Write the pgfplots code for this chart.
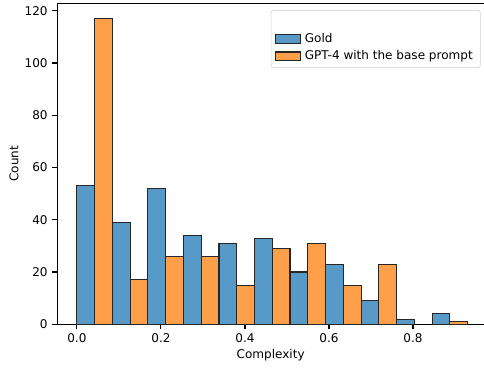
\documentclass[border=0pt]{standalone}
\usepackage{fontspec}
\setmainfont{DejaVu Sans}
\usepackage{pgfplots}
\pgfplotsset{compat=1.18}
\definecolor{goldc}{HTML}{5799C7}
\definecolor{gptc}{HTML}{FF9F4A}
\pgfplotsset{mybarlegend/.style={legend image code/.code={\draw[##1, sharp corners] (0bp,-3.2bp) rectangle (18bp,3.2bp);}}}
\newcommand{\fs}{\fontsize{8.7}{10.4}\selectfont}
\begin{document}
\begin{tikzpicture}
\begin{axis}[
  at={(0,0)}, anchor=south west,
  scale only axis, width=307.2bp, height=231.1bp,
  xmin=-0.0465, xmax=0.969, ymin=0, ymax=122.85,
  axis x line*=box, axis y line*=left,
  axis line style={line width=0.8bp, black},
  xtick={0,0.2,0.4,0.6,0.8},
  ytick={0,20,40,60,80,100,120},
  xtick pos=left, ytick pos=left,
  tick align=outside, major tick length=3.5bp,
  tick style={line width=0.8bp, black},
  xticklabel style={/pgf/number format/.cd, fixed, fixed zerofill, precision=1},
  /pgf/number format/assume math mode=true,
  ticklabel style={font=\fs},
  xlabel={Complexity}, ylabel={Count},
  every axis x label/.style={at={(axis description cs:0.5,0)}, yshift=-22.1bp, anchor=center, font=\fs},
  every axis y label/.style={at={(axis description cs:0,0.5)}, xshift=-31.2bp, rotate=90, anchor=center, font=\fs},
  legend style={at={(axis description cs:1,1)}, anchor=north east, xshift=-2.4bp, yshift=-4.8bp,
    draw=black!20, rounded corners=2bp, fill=white, font=\fs,
    row sep=3.6bp, inner xsep=2.5bp, inner ysep=3.5bp,
    nodes={inner xsep=3bp, inner ysep=0.5bp}},
  legend cell align=left,
]
\addlegendimage{empty legend}
\addlegendentry{\vphantom{Gp}}
\addplot[ybar, bar width=0.0422727, bar shift=0pt, fill=goldc, draw=black!85, line width=0.8bp, mybarlegend]
  coordinates {(0.021136,53) (0.105682,39) (0.190227,52) (0.274773,34) (0.359318,31) (0.443864,33) (0.528409,20) (0.612955,23) (0.697500,9) (0.782045,2) (0.866591,4)};
\addlegendentry{Gold}
\addplot[ybar, bar width=0.0422727, bar shift=0pt, fill=gptc, draw=black!85, line width=0.8bp, mybarlegend]
  coordinates {(0.063409,117) (0.147955,17) (0.232500,26) (0.317045,26) (0.401591,15) (0.486136,29) (0.570682,31) (0.655227,15) (0.739773,23) (0.908864,1)};
\addlegendentry{GPT-4 with the base prompt}
\end{axis}
\pgfresetboundingbox
\path[use as bounding box] (-41.3bp,-31.5bp) rectangle (307.2bp,233.5bp);
\end{tikzpicture}
\end{document}
